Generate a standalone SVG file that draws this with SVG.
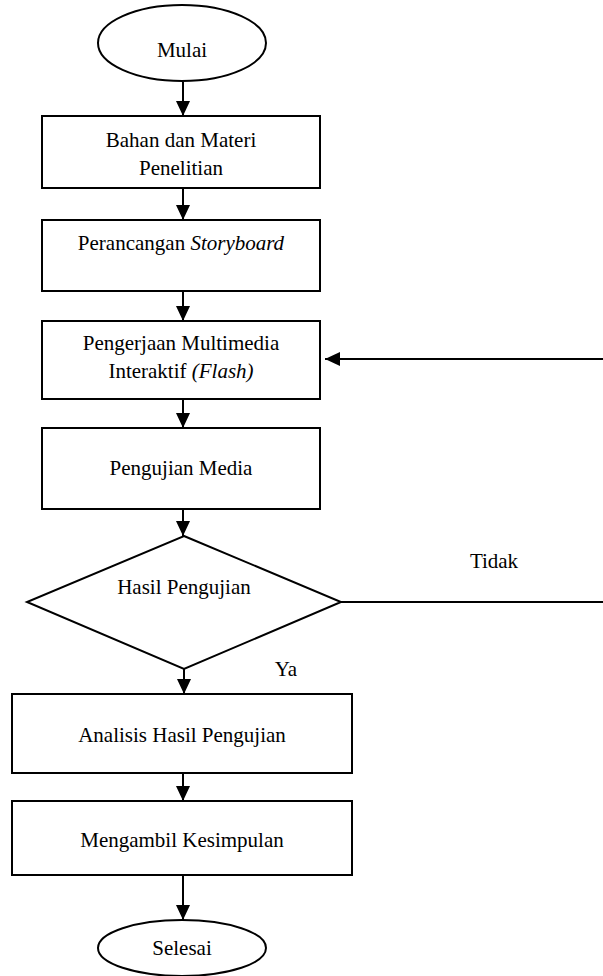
<svg xmlns="http://www.w3.org/2000/svg" width="603" height="976" viewBox="0 0 603 976" font-family="'Liberation Serif', 'Times New Roman', Times, serif">
<defs>
<marker id="ah" markerWidth="15" markerHeight="14" refX="15" refY="7" orient="auto" markerUnits="userSpaceOnUse">
<path d="M0,0 L15,7 L0,14 Z" fill="#000"/>
</marker>
<style>
.s{fill:#fff;stroke:#000;stroke-width:2}
.t{font-family:'Liberation Serif','Times New Roman',Times,serif;font-size:21px;fill:#000;text-anchor:middle}
.c{fill:none;stroke:#000;stroke-width:2}
</style>
</defs>
<rect width="603" height="976" fill="#fff"/>
<g id="connectors">
<line class="c" x1="183" y1="82" x2="183" y2="116" marker-end="url(#ah)"/>
<line class="c" x1="183" y1="188" x2="183" y2="220" marker-end="url(#ah)"/>
<line class="c" x1="183" y1="291" x2="183" y2="321" marker-end="url(#ah)"/>
<line class="c" x1="183" y1="399" x2="183" y2="428" marker-end="url(#ah)"/>
<line class="c" x1="183" y1="509" x2="183" y2="536" marker-end="url(#ah)"/>
<line class="c" x1="184" y1="669" x2="184" y2="694" marker-end="url(#ah)"/>
<line class="c" x1="183" y1="773" x2="183" y2="801" marker-end="url(#ah)"/>
<line class="c" x1="183" y1="875" x2="183" y2="920" marker-end="url(#ah)"/>
<line class="c" x1="341" y1="602" x2="603" y2="602"/>
<line class="c" x1="603" y1="359" x2="325" y2="359" marker-end="url(#ah)"/>
<text class="t" x="494" y="568">Tidak</text>
<text class="t" x="286" y="676">Ya</text>
</g>
<g id="mulai">
<ellipse class="s" cx="182" cy="43" rx="84" ry="38"/>
<text class="t" x="182" y="57">Mulai</text>
</g>
<g id="bahan">
<rect class="s" x="42" y="116" width="278" height="72"/>
<text class="t" x="181" y="147">Bahan dan Materi</text>
<text class="t" x="181" y="175">Penelitian</text>
</g>
<g id="storyboard">
<rect class="s" x="42" y="220" width="278" height="71"/>
<text class="t" x="181" y="250">Perancangan <tspan font-style="italic">Storyboard</tspan></text>
</g>
<g id="pengerjaan">
<rect class="s" x="42" y="321" width="278" height="78"/>
<text class="t" x="181" y="350">Pengerjaan Multimedia</text>
<text class="t" x="181" y="378">Interaktif <tspan font-style="italic">(Flash)</tspan></text>
</g>
<g id="pengujian">
<rect class="s" x="42" y="428" width="278" height="81"/>
<text class="t" x="181" y="475">Pengujian Media</text>
</g>
<g id="hasil">
<polygon class="s" points="184,536 341,602 184,669 27,602"/>
<text class="t" x="184" y="594">Hasil Pengujian</text>
</g>
<g id="analisis">
<rect class="s" x="12" y="694" width="340" height="79"/>
<text class="t" x="182" y="742">Analisis Hasil Pengujian</text>
</g>
<g id="kesimpulan">
<rect class="s" x="12" y="801" width="340" height="74"/>
<text class="t" x="182" y="847">Mengambil Kesimpulan</text>
</g>
<g id="selesai">
<ellipse class="s" cx="182" cy="948" rx="84" ry="28"/>
<text class="t" x="182" y="955">Selesai</text>
</g>
</svg>
